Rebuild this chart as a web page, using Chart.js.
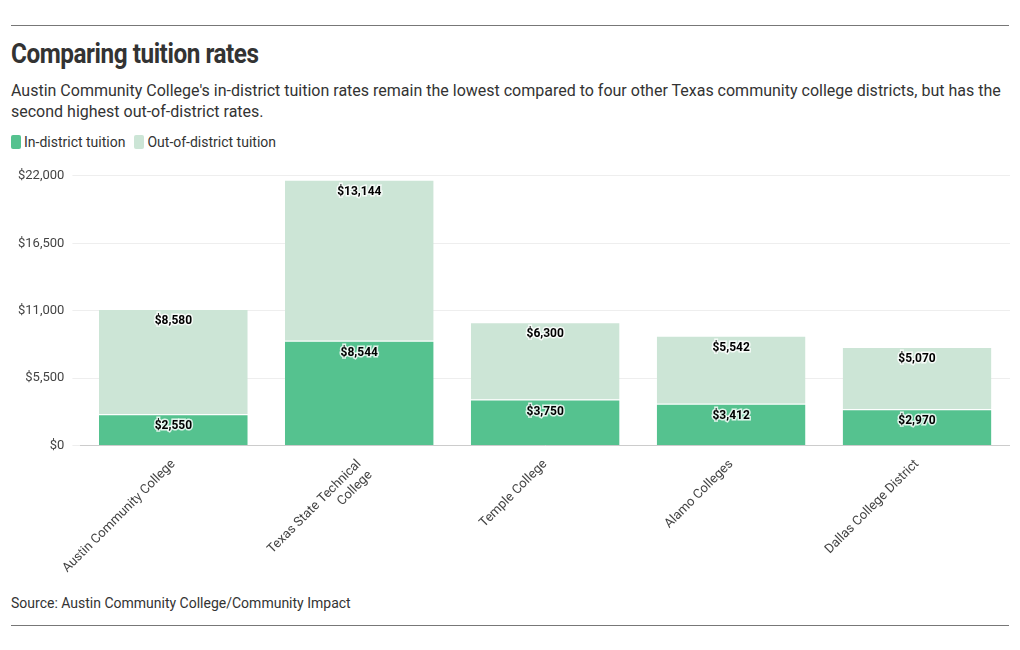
<!DOCTYPE html>
<html><head><meta charset="utf-8">
<script src="https://cdn.jsdelivr.net/npm/chart.js@4"></script>
<style>
body{margin:0;width:1020px;height:650px;background:#fff;font-family:Roboto,sans-serif;color:#333;position:relative;overflow:hidden}
.rule{position:absolute;left:11px;width:998px;border-top:1px solid #777}
h1{position:absolute;left:11px;top:38px;margin:0;font-size:27px;font-weight:700;color:#333;letter-spacing:-0.5px;transform:scaleX(0.9);transform-origin:left}
.sub{position:absolute;left:11px;top:80px;width:1000px;font-size:16px;line-height:21px;color:#333}
.leg{position:absolute;left:11px;top:134px;font-size:14px;color:#333;display:flex;align-items:center}
.sw{display:inline-block;width:10px;height:14px;border-radius:2px;margin-right:3px}
.src{position:absolute;left:11px;top:595px;font-size:14px;color:#333}
#wrap{position:absolute;left:0;top:160px;width:1010px;height:430px}
</style></head><body>
<div class="rule" style="top:25px"></div>
<h1>Comparing tuition rates</h1>
<div class="sub">Austin Community College's in-district tuition rates remain the lowest compared to four other Texas community college districts, but has the second highest out-of-district rates.</div>
<div class="leg"><span class="sw" style="background:#55c28f"></span>In-district tuition<span class="sw" style="background:#cce5d6;margin-left:9px"></span>Out-of-district tuition</div>
<div id="wrap"><canvas id="c"></canvas></div>
<div class="src">Source: Austin Community College/Community Impact</div>
<div class="rule" style="top:625px"></div>
<script>
const categories=["Austin Community College",["Texas State Technical","College"],"Temple College","Alamo Colleges","Dallas College District"];
const inDistrict=[2550,8544,3750,3412,2970];
const outDistrict=[8580,13144,6300,5542,5070];
const labelPlugin={id:'lbl',afterDatasetsDraw(ch){const c=ch.ctx;c.save();c.font='bold 12px Roboto';c.textAlign='center';c.textBaseline='top';
ch.data.datasets.forEach((ds,i)=>{ch.getDatasetMeta(i).data.forEach((b,j)=>{const t='$'+ds.data[j].toLocaleString('en-US');const y=b.y+6;c.lineWidth=3;c.strokeStyle='rgba(255,255,255,0.8)';c.strokeText(t,b.x,y);c.fillStyle='#000';c.fillText(t,b.x,y);});});c.restore();}};
new Chart(document.getElementById('c'),{type:'bar',
data:{labels:categories,datasets:[
{label:'In-district tuition',data:inDistrict,backgroundColor:'#55c28f',borderColor:'#fff',borderWidth:{top:1},borderSkipped:'bottom'},
{label:'Out-of-district tuition',data:outDistrict,backgroundColor:'#cce5d6',borderColor:'#fff',borderWidth:{top:1},borderSkipped:'bottom'}]},
options:{responsive:true,maintainAspectRatio:false,animation:false,
layout:{padding:{top:10,left:10}},
plugins:{legend:{display:false},tooltip:{enabled:false}},
datasets:{bar:{barPercentage:1,categoryPercentage:0.8}},
scales:{x:{stacked:true,grid:{display:false},border:{color:'#ccc'},ticks:{color:'#444',font:{family:'Roboto',size:13},maxRotation:45,minRotation:45}},
y:{stacked:true,min:0,max:22000,border:{display:false},grid:{color:'#eee'},ticks:{stepSize:5000,color:'#444',font:{family:'Roboto',size:13},padding:8,callback:v=>'$'+v.toLocaleString('en-US')}}}},
plugins:[labelPlugin]});
</script></body></html>
